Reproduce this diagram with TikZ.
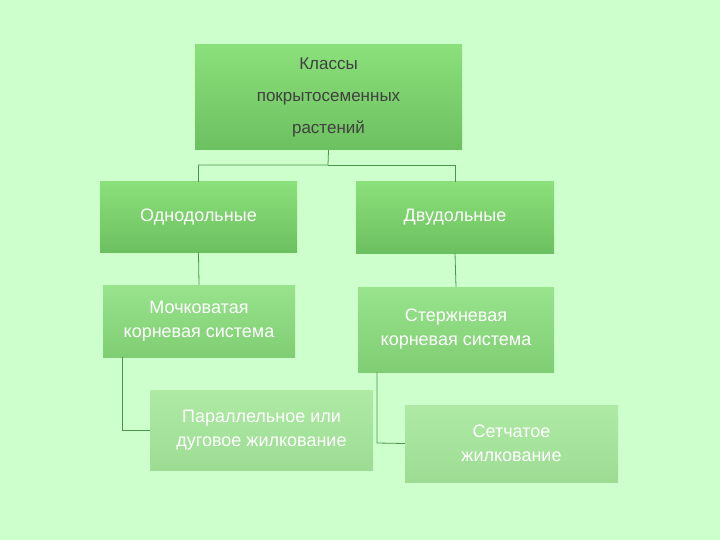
\documentclass[tikz,border=0pt]{standalone}
\usepackage{fontspec}
\setmainfont{Liberation Sans}
\begin{document}
\begin{tikzpicture}[x=1pt,y=-1pt,
 box/.style={draw=none,text=white,align=center,inner sep=0pt,font=\fontsize{18}{24}\selectfont},
 ln/.style={draw=black!30!green!40!gray,line width=0.8pt}]
\fill[green!20] (0,0) rectangle (720,540);
\useasboundingbox (0,0) rectangle (720,540);
\definecolor{a1}{HTML}{8AE07A}\definecolor{a2}{HTML}{6DC060}
\definecolor{b1}{HTML}{98E38C}\definecolor{b2}{HTML}{80CE74}
\definecolor{c1}{HTML}{AEEAA4}\definecolor{c2}{HTML}{9EDC94}
\shade[top color=a1,bottom color=a2] (195,45) rectangle (462,150);
\shade[top color=a1,bottom color=a2] (100,182) rectangle (297,252);
\shade[top color=a1,bottom color=a2] (356,182) rectangle (554,253);
\shade[top color=b1,bottom color=b2] (103,285) rectangle (295,357);
\shade[top color=b1,bottom color=b2] (358,287) rectangle (554,372);
\shade[top color=c1,bottom color=c2] (150,390) rectangle (373,470);
\shade[top color=c1,bottom color=c2] (405,405) rectangle (618,482);
\node[box,text=black!75,font=\fontsize{17}{32}\selectfont,minimum width=267,minimum height=105] (top) at (328.5,97.5) {Классы\\покрытосеменных\\растений};
\node[box,minimum width=197,minimum height=70] (mono) at (198.5,217) {Однодольные};
\node[box,minimum width=198,minimum height=71] (di) at (455,217.5) {Двудольные};
\node[box,minimum width=192,minimum height=72] (moch) at (199,321) {Мочковатая\\корневая система};
\node[box,minimum width=196,minimum height=85] (ster) at (456,329.5) {Стержневая\\корневая система};
\node[box,minimum width=223,minimum height=80] (par) at (261.5,430) {Параллельное или\\дуговое жилкование};
\node[box,minimum width=213,minimum height=77] (set) at (511.5,443.5) {Сетчатое\\жилкование};
\coordinate (j) at (328,165);
\draw[ln] (top.south) -- (j) -- (j -| mono) -- (mono.north);
\draw[ln] (j) -- (j -| di) -- (di.north);
\draw[ln] (mono.south) -- (moch.north);
\draw[ln] (di.south) -- (ster.north);
\draw[ln] (moch.south -| 122,0) -- (122,430) -- (par.west);
\draw[ln] (ster.south -| 377,0) -- (377,443) -- (set.west);
\end{tikzpicture}
\end{document}
